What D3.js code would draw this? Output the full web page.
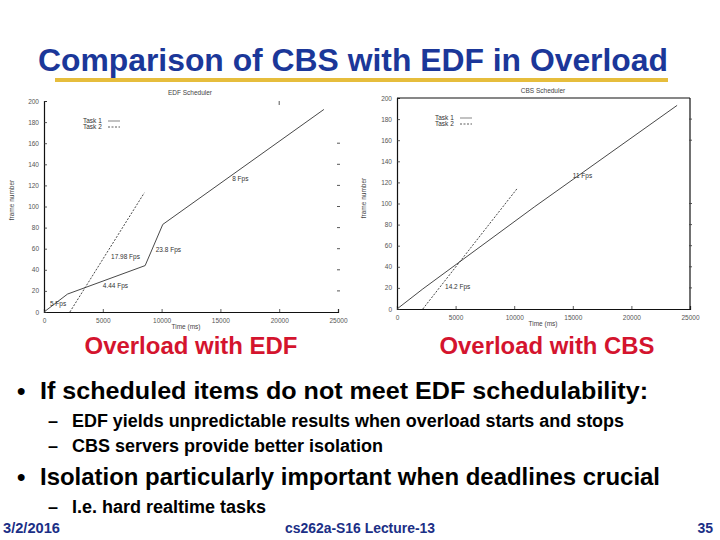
<!DOCTYPE html>
<html><head><meta charset="utf-8">
<script src="https://cdn.jsdelivr.net/npm/d3@7"></script>
<style>body{margin:0;background:#fff}svg{display:block}text{font-family:"Liberation Sans",Arial,sans-serif}</style>
</head><body>
<svg id="s" width="720" height="540"></svg>
<script>
// ---- data ----
const xTicks = [0, 5000, 10000, 15000, 20000, 25000];
const yTicks = [0, 20, 40, 60, 80, 100, 120, 140, 160, 180, 200];
const edfTask1Time = [0, 2000, 8600, 10100, 23800];
const edfTask1Frame = [0, 17, 44, 83, 192];
const edfTask2Time = [2200, 8530];
const edfTask2Frame = [0, 113];
const cbsTask1Time = [0, 2200, 11750, 23900];
const cbsTask1Frame = [0, 19, 97, 193];
const cbsTask2Time = [2200, 10240];
const cbsTask2Frame = [0, 114];
const edfLabels = [
  {t: "5 Fps", x: 500, y: 6},
  {t: "4.44 Fps", x: 5000, y: 23},
  {t: "17.98 Fps", x: 5700, y: 50},
  {t: "23.8 Fps", x: 9500, y: 57},
  {t: "8 Fps", x: 16000, y: 124}
];
const cbsLabels = [
  {t: "14.2 Fps", x: 4100, y: 19},
  {t: "11 Fps", x: 15000, y: 124}
];

const svg = d3.select("#s");
svg.append("rect").attr("width", 720).attr("height", 540).attr("fill", "#fff");

// ---- slide title ----
svg.append("text").attr("x", 353).attr("y", 71).attr("text-anchor", "middle")
  .attr("font-size", 31).attr("font-weight", "bold").attr("fill", "#1b3799")
  .attr("textLength", 630).attr("lengthAdjust", "spacingAndGlyphs")
  .text("Comparison of CBS with EDF in Overload");
svg.append("rect").attr("x", 55).attr("y", 78).attr("width", 613).attr("height", 4).attr("fill", "#e6bd3c");

function chart(cfg) {
  const x = d3.scaleLinear().domain([0, 25000]).range([cfg.x0, cfg.x1]);
  const y = d3.scaleLinear().domain([0, 200]).range([cfg.y0, cfg.y1]);
  const g = svg.append("g");
  const tc = "#555";
  const ax = g.append("g").attr("transform", `translate(0,${cfg.y0})`)
    .call(d3.axisBottom(x).tickValues(xTicks).tickSize(-3).tickPadding(6).tickFormat(d3.format("d")));
  const ay = g.append("g").attr("transform", `translate(${cfg.x0},0)`)
    .call(d3.axisLeft(y).tickValues(yTicks).tickSize(-3).tickPadding(5));
  [ax, ay].forEach(a => {
    a.selectAll("text").attr("font-size", 6.5).attr("fill", tc).attr("font-family", "Liberation Sans, Arial");
    a.selectAll("line").attr("stroke", "#333").attr("stroke-width", 0.8);
    a.select(".domain").attr("stroke", "#111").attr("stroke-width", 1.2);
  });
  if (cfg.box) {
    g.append("line").attr("x1", cfg.x0).attr("x2", cfg.x1).attr("y1", cfg.y1).attr("y2", cfg.y1).attr("stroke", "#111").attr("stroke-width", 1.2);
    g.append("line").attr("x1", cfg.x1).attr("x2", cfg.x1).attr("y1", cfg.y1).attr("y2", cfg.y0).attr("stroke", "#111").attr("stroke-width", 1.2);
  }
  g.selectAll(".rt").data(cfg.rightTicks).join("line")
    .attr("x1", cfg.x1 - 1).attr("x2", cfg.x1 + 2)
    .attr("y1", d => y(d)).attr("y2", d => y(d))
    .attr("stroke", "#444").attr("stroke-width", 0.9);
  g.selectAll(".tt").data(cfg.topTicks).join("line")
    .attr("x1", d => x(d)).attr("x2", d => x(d))
    .attr("y1", cfg.y1).attr("y2", cfg.y1 + 4)
    .attr("stroke", "#444").attr("stroke-width", 0.9);
  g.append("text").attr("x", cfg.titleX).attr("y", cfg.titleY).attr("text-anchor", "middle")
    .attr("font-size", 6.5).attr("fill", "#444").text(cfg.title);
  g.append("text").attr("x", cfg.xLabX).attr("y", cfg.y0 + 17).attr("text-anchor", "middle")
    .attr("font-size", 6.5).attr("fill", "#444").text("Time (ms)");
  g.append("text").attr("transform", `translate(${cfg.yLabX},${cfg.yLabY}) rotate(-90)`)
    .attr("text-anchor", "middle").attr("font-size", 6.5).attr("fill", "#444").text("frame number");
  const line = d3.line().x(d => x(d[0])).y(d => y(d[1]));
  g.append("path").datum(d3.zip(cfg.t1, cfg.f1)).attr("d", line)
    .attr("fill", "none").attr("stroke", "#333").attr("stroke-width", 0.9);
  g.append("path").datum(d3.zip(cfg.t2, cfg.f2)).attr("d", line)
    .attr("fill", "none").attr("stroke", "#333").attr("stroke-width", 0.9).attr("stroke-dasharray", "2,1.5");
  g.append("text").attr("x", cfg.legX).attr("y", cfg.legY).attr("font-size", 6.5).attr("fill", "#333").text("Task 1");
  g.append("text").attr("x", cfg.legX).attr("y", cfg.legY + 6).attr("font-size", 6.5).attr("fill", "#333").text("Task 2");
  g.append("line").attr("x1", cfg.legX + 25).attr("x2", cfg.legX + 37).attr("y1", cfg.legY - 2).attr("y2", cfg.legY - 2)
    .attr("stroke", "#999").attr("stroke-width", 1.2);
  g.append("line").attr("x1", cfg.legX + 25).attr("x2", cfg.legX + 37).attr("y1", cfg.legY + 4).attr("y2", cfg.legY + 4)
    .attr("stroke", "#333").attr("stroke-width", 0.8).attr("stroke-dasharray", "2,1.5");
  g.selectAll(".lab").data(cfg.labels).join("text")
    .attr("x", d => x(d.x)).attr("y", d => y(d.y)).attr("font-size", 6.5).attr("fill", "#333").text(d => d.t);
}

chart({x0: 44, x1: 338, y0: 312, y1: 101, box: false, title: "EDF Scheduler", titleX: 190, titleY: 95,
  xLabX: 186, yLabX: 14, yLabY: 200, legX: 83, legY: 123,
  rightTicks: [20, 40, 60, 80, 100, 120, 140, 160], topTicks: [20000],
  t1: edfTask1Time, f1: edfTask1Frame, t2: edfTask2Time, f2: edfTask2Frame, labels: edfLabels});
chart({x0: 397, x1: 690, y0: 309, y1: 98, box: true, title: "CBS Scheduler", titleX: 543, titleY: 93,
  xLabX: 543, yLabX: 366, yLabY: 198, legX: 435, legY: 120,
  rightTicks: [20, 40, 60, 80, 100, 160, 180], topTicks: [],
  t1: cbsTask1Time, f1: cbsTask1Frame, t2: cbsTask2Time, f2: cbsTask2Frame, labels: cbsLabels});

// ---- captions ----
const red = "#d4142e";
svg.append("text").attr("x", 191).attr("y", 354).attr("text-anchor", "middle").attr("font-size", 23.5)
  .attr("font-weight", "bold").attr("fill", red).attr("textLength", 213).attr("lengthAdjust", "spacingAndGlyphs").text("Overload with EDF");
svg.append("text").attr("x", 547).attr("y", 354).attr("text-anchor", "middle").attr("font-size", 23.5)
  .attr("font-weight", "bold").attr("fill", red).attr("textLength", 215).attr("lengthAdjust", "spacingAndGlyphs").text("Overload with CBS");

// ---- bullets ----
function txt(x, y, size, weight, s, len, color) {
  const t = svg.append("text").attr("x", x).attr("y", y).attr("font-size", size)
    .attr("font-weight", weight).attr("fill", color || "#000").text(s);
  if (len) t.attr("textLength", len).attr("lengthAdjust", "spacingAndGlyphs");
  return t;
}
txt(17, 399, 24, "bold", "•");
txt(40, 399, 24, "bold", "If scheduled items do not meet EDF schedulability:", 608);
txt(48, 427, 18, "bold", "–");
txt(72, 427, 18, "bold", "EDF yields unpredictable results when overload starts and stops", 552);
txt(48, 452, 18, "bold", "–");
txt(72, 452, 18, "bold", "CBS servers provide better isolation");
txt(17, 485, 24, "bold", "•");
txt(40, 485, 24, "bold", "Isolation particularly important when deadlines crucial", 620);
txt(48, 513, 18, "bold", "–");
txt(72, 513, 18, "bold", "I.e. hard realtime tasks");

// ---- footer ----
const blue = "#1b2f86";
txt(3, 533, 14, "bold", "3/2/2016", 57, blue);
svg.append("text").attr("x", 360).attr("y", 533).attr("text-anchor", "middle").attr("font-size", 14)
  .attr("font-weight", "bold").attr("fill", blue).attr("textLength", 150).attr("lengthAdjust", "spacingAndGlyphs").text("cs262a-S16 Lecture-13");
svg.append("text").attr("x", 713).attr("y", 533).attr("text-anchor", "end").attr("font-size", 14)
  .attr("font-weight", "bold").attr("fill", blue).text("35");
</script>
</body></html>
